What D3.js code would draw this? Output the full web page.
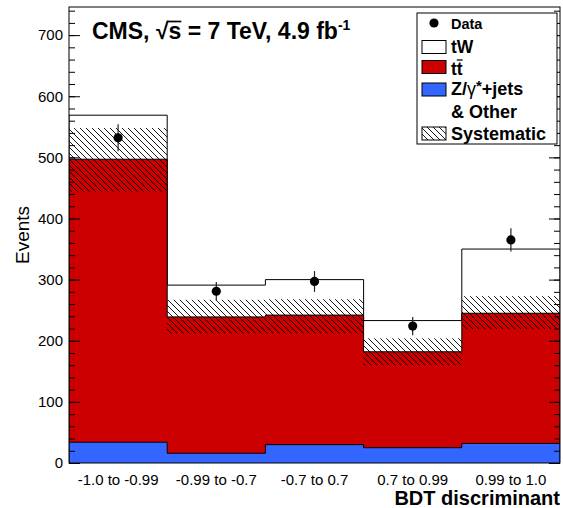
<!DOCTYPE html>
<html lang="en">
<head>
<meta charset="utf-8">
<title>BDT discriminant</title>
<script src="https://d3js.org/d3.v7.min.js"></script>
<style>
  body { margin: 0; background: #fff; }
  svg { font-family: "Liberation Sans", Arial, sans-serif; }
</style>
</head>
<body>
<script>
// bins of the BDT output
var bins = ["-1.0 to -0.99", "-0.99 to -0.7", "-0.7 to 0.7", "0.7 to 0.99", "0.99 to 1.0"];

// stacked backgrounds (bottom to top)
var zjets = [34, 16, 30, 25, 32];
var ttbar = [463, 223, 212, 157, 213];
var tw    = [72, 52, 58, 51, 105];

// systematic band edges
var sysLow  = [444, 212, 212, 160, 219];
var sysHigh = [548, 267, 268, 204, 273];

// observed data
var dataVals = [532, 281, 297, 224, 365];
var dataErr  = [22, 15, 17, 15, 19];

var yMajor = [0, 100, 200, 300, 400, 500, 600, 700];
var yMinor = d3.range(0, 741, 20);

var w = 563, h = 508;
var padL = 69, padR = 560, padT = 7, padB = 463;   // plot frame
var red = "#cc0000", blue = "#3366ff";

var svg = d3.select("body").append("svg")
    .attr("width", w)
    .attr("height", h);

var x = d3.scaleBand().domain(bins).range([padL, padR]).padding(0);
var y = d3.scaleLinear().domain([0, 746]).range([padB, padT]);

// hatch pattern for the systematic band
var defs = svg.append("defs");
defs.append("pattern")
    .attr("id", "hatch")
    .attr("patternUnits", "userSpaceOnUse")
    .attr("width", 6).attr("height", 6)
  .append("path")
    .attr("d", "M0,0 L6,6 M-1,5 L1,7 M5,-1 L7,1")
    .attr("stroke", "#000")
    .attr("stroke-width", 0.9);

defs.append("clipPath").attr("id", "plotclip")
  .append("rect")
    .attr("x", padL).attr("y", padT)
    .attr("width", padR - padL).attr("height", padB - padT);

// cumulative stacks
var stackZ = zjets.slice();
var stackTT = zjets.map(function(d, i) { return d + ttbar[i]; });
var stackAll = stackTT.map(function(d, i) { return d + tw[i]; });

function stepPoints(vals) {
    var pts = [[x(bins[0]), 0]];
    vals.forEach(function(v, i) {
        pts.push([x(bins[i]), v]);
        pts.push([x(bins[i]) + x.bandwidth(), v]);
    });
    pts.push([x(bins[bins.length - 1]) + x.bandwidth(), 0]);
    return pts;
}

var line = d3.line()
    .x(function(d) { return d[0]; })
    .y(function(d) { return y(d[1]); });

var plot = svg.append("g").attr("clip-path", "url(#plotclip)");

[[stackAll, "#fff"], [stackTT, red], [stackZ, blue]].forEach(function(s) {
    plot.append("path")
        .attr("d", line(stepPoints(s[0])) + "Z")
        .attr("fill", s[1])
        .attr("stroke", "none");
    plot.append("path")
        .attr("d", line(stepPoints(s[0])))
        .attr("fill", "none")
        .attr("stroke", "#000")
        .attr("stroke-width", 1);
});

// systematic band
plot.selectAll("rect.sys")
    .data(bins)
    .enter()
    .append("rect")
      .attr("class", "sys")
      .attr("x", function(d) { return x(d); })
      .attr("width", x.bandwidth())
      .attr("y", function(d, i) { return y(sysHigh[i]); })
      .attr("height", function(d, i) { return y(sysLow[i]) - y(sysHigh[i]); })
      .attr("fill", "url(#hatch)");

// axes
var gMinor = svg.append("g")
    .attr("transform", "translate(" + padL + ",0)")
    .call(d3.axisLeft(y).tickValues(yMinor).tickSize(-6).tickFormat(""));
var gMajor = svg.append("g")
    .attr("transform", "translate(" + padL + ",0)")
    .call(d3.axisLeft(y).tickValues(yMajor).tickSize(-11).tickPadding(6).tickFormat(d3.format("d")));
var gMinorR = svg.append("g")
    .attr("transform", "translate(" + padR + ",0)")
    .call(d3.axisRight(y).tickValues(yMinor).tickSize(-6).tickFormat(""));
var gMajorR = svg.append("g")
    .attr("transform", "translate(" + padR + ",0)")
    .call(d3.axisRight(y).tickValues(yMajor).tickSize(-11).tickFormat(""));
var gX = svg.append("g")
    .attr("transform", "translate(0," + padB + ")")
    .call(d3.axisBottom(x).tickSize(0).tickPadding(11));

[gMinor, gMajor, gMinorR, gMajorR, gX].forEach(function(g) {
    g.select(".domain").remove();
    g.selectAll(".tick line").attr("stroke", "#000");
    g.selectAll("text")
        .attr("font-family", "Liberation Sans, Arial, sans-serif")
        .attr("font-size", 15)
        .attr("fill", "#000");
});

// frame
svg.append("rect")
    .attr("x", padL).attr("y", padT)
    .attr("width", padR - padL).attr("height", padB - padT)
    .attr("fill", "none")
    .attr("stroke", "#000")
    .attr("stroke-width", 1);

// data points with errors
var pts = svg.append("g");
pts.selectAll("line")
    .data(dataVals)
    .enter()
    .append("line")
      .attr("x1", function(d, i) { return x(bins[i]) + x.bandwidth() / 2; })
      .attr("x2", function(d, i) { return x(bins[i]) + x.bandwidth() / 2; })
      .attr("y1", function(d, i) { return y(d + dataErr[i]); })
      .attr("y2", function(d, i) { return y(d - dataErr[i]); })
      .attr("stroke", "#222")
      .attr("stroke-width", 1.2);
pts.selectAll("circle")
    .data(dataVals)
    .enter()
    .append("circle")
      .attr("cx", function(d, i) { return x(bins[i]) + x.bandwidth() / 2; })
      .attr("cy", function(d) { return y(d); })
      .attr("r", 4.6)
      .attr("fill", "#000");

// axis titles
svg.append("text")
    .attr("x", padR)
    .attr("y", 505)
    .attr("text-anchor", "end")
    .attr("font-weight", "bold")
    .attr("font-size", 20)
    .text("BDT discriminant");

svg.append("text")
    .attr("transform", "rotate(-90)")
    .attr("x", -235)
    .attr("y", 29)
    .attr("text-anchor", "middle")
    .attr("font-size", 19)
    .text("Events");

// CMS label
var title = svg.append("text")
    .attr("x", 92)
    .attr("y", 38.5)
    .attr("font-weight", "bold")
    .attr("font-size", 23);
title.append("tspan").text("CMS, \u221As = 7 TeV, 4.9 fb");
title.append("tspan").attr("dy", -9).attr("font-size", 14).text("-1");
var tnode = title.node();
var sBox = tnode.getExtentOfChar(6);
var rBox = tnode.getExtentOfChar(5);
svg.append("line")
    .attr("x1", rBox.x + rBox.width - 1.5)
    .attr("x2", sBox.x + sBox.width)
    .attr("y1", 38.5 - 17).attr("y2", 38.5 - 17)
    .attr("stroke", "#000")
    .attr("stroke-width", 1.7);

// legend
var lg = svg.append("g");
lg.append("rect")
    .attr("x", 417).attr("y", 13)
    .attr("width", 140).attr("height", 131)
    .attr("fill", "#fff")
    .attr("stroke", "#000");

var swX = 422, swW = 24, swH = 13, txX = 451;

lg.append("circle").attr("cx", 434).attr("cy", 23).attr("r", 4.6).attr("fill", "#000");
lg.append("text").attr("x", txX).attr("y", 28.5)
    .attr("font-weight", "bold").attr("font-size", 14.5).text("Data");

[[47, "#fff"], [67, red], [89.5, blue], [133.5, "url(#hatch)"]].forEach(function(s) {
    lg.append("rect")
        .attr("x", swX).attr("y", s[0] - swH / 2)
        .attr("width", swW).attr("height", swH)
        .attr("fill", s[1])
        .attr("stroke", "#000");
});

lg.append("text").attr("x", txX).attr("y", 53)
    .attr("font-weight", "bold").attr("font-size", 17.5).text("tW");

var ttText = lg.append("text").attr("x", txX).attr("y", 74.5)
    .attr("font-weight", "bold").attr("font-size", 17.5).text("tt");
var tb = ttText.node().getExtentOfChar(1);
lg.append("line")
    .attr("x1", tb.x).attr("x2", tb.x + tb.width)
    .attr("y1", 74.5 - 14.5).attr("y2", 74.5 - 14.5)
    .attr("stroke", "#000").attr("stroke-width", 1.3);

var zt = lg.append("text").attr("x", txX).attr("y", 95)
    .attr("font-weight", "bold").attr("font-size", 18);
zt.append("tspan").text("Z/");
zt.append("tspan").attr("font-weight", "normal").text("\u03B3");
zt.append("tspan").attr("dy", -4).attr("font-size", 15).text("*");
zt.append("tspan").attr("dy", 4).text("+jets");

lg.append("text").attr("x", txX).attr("y", 117.5)
    .attr("font-weight", "bold").attr("font-size", 18).text("& Other");
lg.append("text").attr("x", txX).attr("y", 139.5)
    .attr("font-weight", "bold").attr("font-size", 18).text("Systematic");
</script>
</body>
</html>
